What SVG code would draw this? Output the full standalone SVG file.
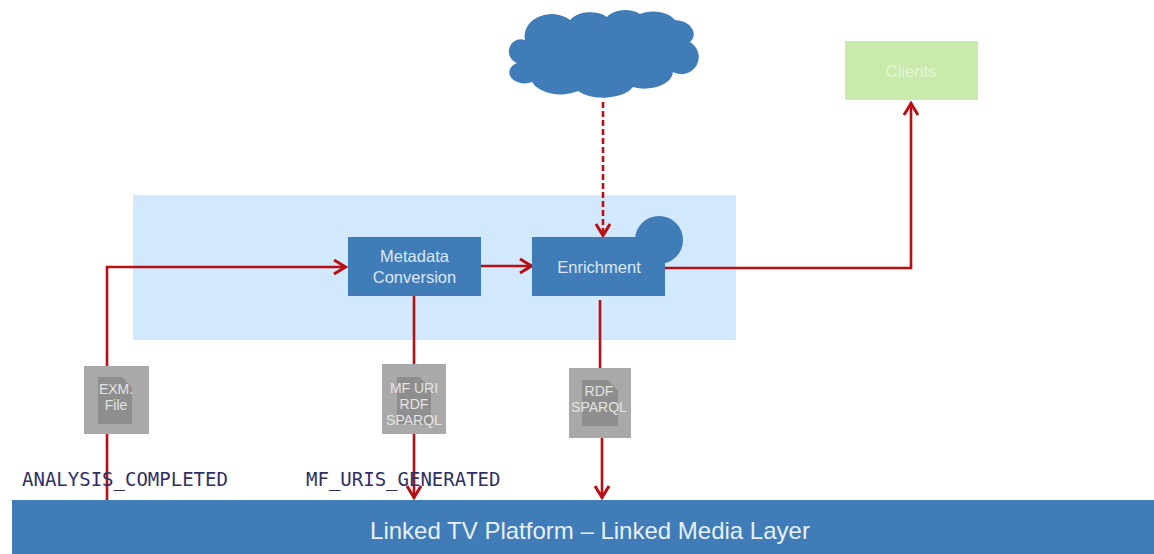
<svg xmlns="http://www.w3.org/2000/svg" width="1154" height="554" viewBox="0 0 1154 554">
<style>
.b{fill:#3f7cb8}
.t{font-family:"Liberation Sans",Arial,sans-serif;fill:#dce8f5;text-anchor:middle}
.d{font-family:"Liberation Sans",Arial,sans-serif;fill:#e4e4e4;text-anchor:middle;font-size:14px}
.m{font-family:"DejaVu Sans Mono","Liberation Mono",monospace;fill:#2f2f66;font-size:19px}
.c{fill:none;stroke:#b70f14;stroke-width:2.6}
.h{fill:none;stroke:#b70f14;stroke-width:3}
.g{fill:#a9a9a9}
.f{fill:#8e8e8e}
</style>
<defs>
<marker id="a" markerUnits="userSpaceOnUse" markerWidth="18" markerHeight="18" refX="14" refY="8" orient="auto"><path d="M2 1L13.500 8L2 15" class="h"/></marker>
</defs>
<rect width="1154" height="554" fill="#fff"/>
<rect id="container" x="133" y="195" width="603" height="145" fill="#d2e8fd"/>
<g id="cloud"><path class="b" d="M525 40A27 22 0 0 1 570 20A23 15 0 0 1 607 17A20 12 0 0 1 640 14A24 15 0 0 1 675 20A20 14 0 0 1 690 42A14 14 0 0 1 673 72A28 17 0 0 1 633 87A32 17 0 0 1 578 91A30 18 0 0 1 532 82A14 10 0 0 1 517 63A12 12 0 0 1 525 40Z"/></g>
<g id="clients"><rect x="845" y="41" width="133" height="59" fill="#c8ebab"/><text class="t" x="911" y="77" font-size="16.500" style="fill:#e3f4d3">Clients</text></g>
<g id="connectors">
<path class="c" d="M107 366V267H346" marker-end="url(#a)"/>
<path class="c" d="M481 266H532" marker-end="url(#a)"/>
<path class="c" d="M414 296V498" marker-end="url(#a)"/>
<path class="c" d="M600 300V370"/>
<path class="c" d="M602 437V498" marker-end="url(#a)"/>
<path class="c" d="M665 268H911V103" marker-end="url(#a)"/>
<path class="c" d="M603 102V236" stroke-dasharray="6 3" marker-end="url(#a)"/>
<path class="c" d="M107 434V503"/>
</g>
<g id="metadata"><rect class="b" x="348" y="237" width="133" height="59"/><text class="t" x="414.500" y="262" font-size="16.500">Metadata</text><text class="t" x="414.500" y="283" font-size="16.500">Conversion</text></g>
<g id="enrichment"><circle class="b" cx="659" cy="240" r="24"/><rect class="b" x="532" y="237" width="133" height="59"/><text class="t" x="599" y="273" font-size="16.500">Enrichment</text></g>
<g id="exm"><rect class="g" x="84" y="366" width="65" height="68"/><path class="f" d="M98 377H122L132 388V424H98Z"/><text class="d" x="116" y="394">EXM.</text><text class="d" x="116" y="410">File</text></g>
<g id="mfuri"><rect class="g" x="382" y="364" width="64" height="70"/><path class="f" d="M397 377H420L431 390V424H397Z"/><text class="d" x="414" y="393">MF URI</text><text class="d" x="414" y="409">RDF</text><text class="d" x="414" y="425">SPARQL</text></g>
<g id="rdf"><rect class="g" x="569" y="368" width="62" height="70"/><path class="f" d="M582 380H608L618 391V426H582Z"/><text class="d" x="599" y="396">RDF</text><text class="d" x="599" y="412">SPARQL</text></g>
<g id="platform"><rect class="b" x="12" y="500" width="1142" height="54"/><text class="t" x="590" y="539" font-size="24" style="fill:#e8f0f8">Linked TV Platform – Linked Media Layer</text></g>
<text class="m" x="22" y="486">ANALYSIS_COMPLETED</text>
<text class="m" x="306" y="486">MF_URIS_GENERATED</text>
</svg>
